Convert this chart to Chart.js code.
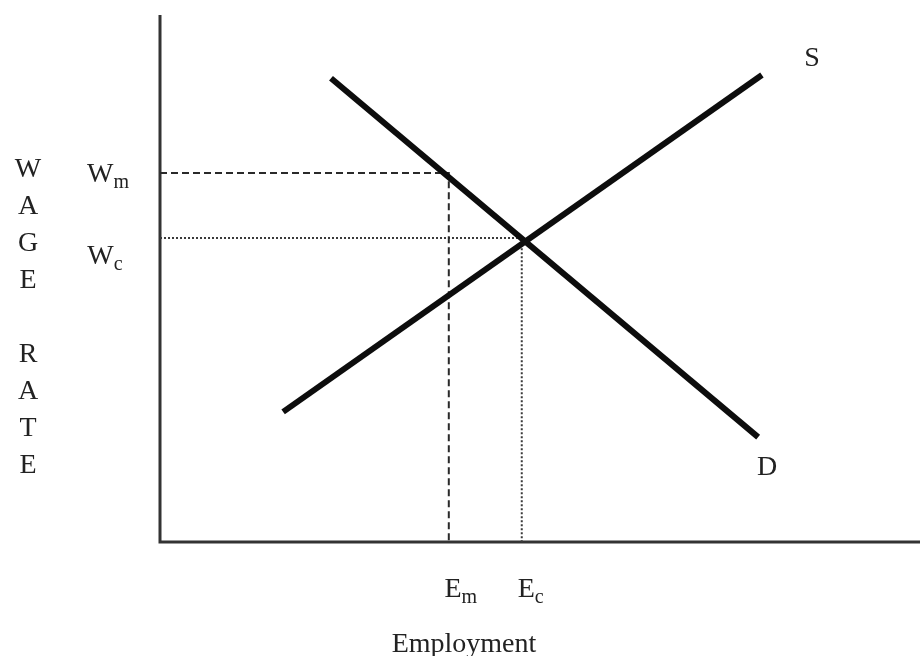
<!DOCTYPE html>
<html>
<head>
<meta charset="utf-8">
<script src="https://cdn.jsdelivr.net/npm/chart.js@4/dist/chart.umd.min.js"></script>
<style>
	html, body { margin: 0; padding: 0; background: #fff; }
	#wrap { width: 920px; height: 656px; position: relative; }
</style>
</head>
<body>
<div id="wrap"><canvas id="chart-labour"></canvas></div>
<script>
// Curve end points (employment, wage)
const supplyX = [16.2, 79.2];
const supplyY = [24.7, 88.6];
const demandX = [22.5, 78.7];
const demandY = [88.0, 19.9];

// Wage and employment levels
const wageLevels = [70.0, 57.7]; // W_m, W_c
const empLevels = [38.0, 47.6]; // E_m, E_c

const SERIF = "'Liberation Serif', 'DejaVu Serif', serif";

const toPoints = (xs, ys) => xs.map((x, i) => ({ x: x, y: ys[i] }));

// Text annotations, placed through the scales
const labelPlugin = {
	id: "labels",
	afterDraw(chart) {
		const { ctx, scales } = chart;
		const x = scales.x;
		const y = scales.y;
		const px = (v) => x.getPixelForValue(v);
		const py = (v) => y.getPixelForValue(v);

		ctx.save();
		ctx.fillStyle = "#222";
		ctx.textBaseline = "alphabetic";

		const sub = (base, small, cx, by) => {
			ctx.font = "28px " + SERIF;
			const w1 = ctx.measureText(base).width;
			ctx.font = "20px " + SERIF;
			const w2 = ctx.measureText(small).width;
			const left = cx - (w1 + w2) / 2;
			ctx.font = "28px " + SERIF;
			ctx.textAlign = "left";
			ctx.fillText(base, left, by);
			ctx.font = "20px " + SERIF;
			ctx.fillText(small, left + w1, by + 6);
		};

		// curve names
		ctx.font = "28px " + SERIF;
		ctx.textAlign = "center";
		ctx.fillText("S", px(supplyX[1]) + 50, py(supplyY[1]) - 9);
		ctx.fillText("D", px(demandX[1]) + 9, py(demandY[1]) + 38);

		// wage labels
		sub("W", "m", 108, py(wageLevels[0]) + 9);
		sub("W", "c", 105, py(wageLevels[1]) + 26);

		// employment labels
		sub("E", "m", px(empLevels[0]) + 12, 597);
		sub("E", "c", px(empLevels[1]) + 9, 597);

		// axis titles
		ctx.font = "28px " + SERIF;
		ctx.textAlign = "center";
		ctx.fillText("Employment", 464, 652);
		const letters = ["W", "A", "G", "E", "", "R", "A", "T", "E"];
		const rowY = [177, 214, 251, 288, 0, 362, 399, 436, 473];
		letters.forEach((l, i) => {
			if (l) ctx.fillText(l, 28, rowY[i]);
		});
		ctx.restore();
	},
};

const DATA = {
	datasets: [
		{
			label: "S",
			data: toPoints(supplyX, supplyY),
			borderColor: "#0d0d0d",
			borderWidth: 6,
			borderCapStyle: "butt",
		},
		{
			label: "D",
			data: toPoints(demandX, demandY),
			borderColor: "#0d0d0d",
			borderWidth: 6,
			borderCapStyle: "butt",
		},
		{
			label: "Wm",
			data: [
				{ x: 0, y: wageLevels[0] },
				{ x: empLevels[0], y: wageLevels[0] },
				{ x: empLevels[0], y: 0 },
			],
			borderColor: "#2a2a2a",
			borderWidth: 2,
			borderDash: [7, 4],
		},
		{
			label: "Wc",
			data: [
				{ x: 0, y: wageLevels[1] },
				{ x: empLevels[1], y: wageLevels[1] },
				{ x: empLevels[1], y: 0 },
			],
			borderColor: "#3a3a3a",
			borderWidth: 2,
			borderDash: [2, 2],
		},
		{
			label: "axes",
			data: [
				{ x: 0, y: 100 },
				{ x: 0, y: 0 },
				{ x: 100, y: 0 },
			],
			borderColor: "#333",
			borderWidth: 3,
		},
	],
};

const CONFIG = {
	type: "line",
	data: DATA,
	options: {
		responsive: true,
		maintainAspectRatio: false,
		animation: false,
		layout: {
			padding: { left: 160, top: 15, right: 0, bottom: 114 },
		},
		elements: {
			point: { radius: 0 },
			line: { tension: 0, fill: false },
		},
		datasets: {
			line: { clip: false },
		},
		plugins: {
			legend: { display: false },
			tooltip: { enabled: false },
		},
		scales: {
			x: { type: "linear", min: 0, max: 100, display: false },
			y: { type: "linear", min: 0, max: 100, display: false },
		},
	},
	plugins: [labelPlugin],
};

new Chart(document.getElementById("chart-labour"), CONFIG);
</script>
</body>
</html>
